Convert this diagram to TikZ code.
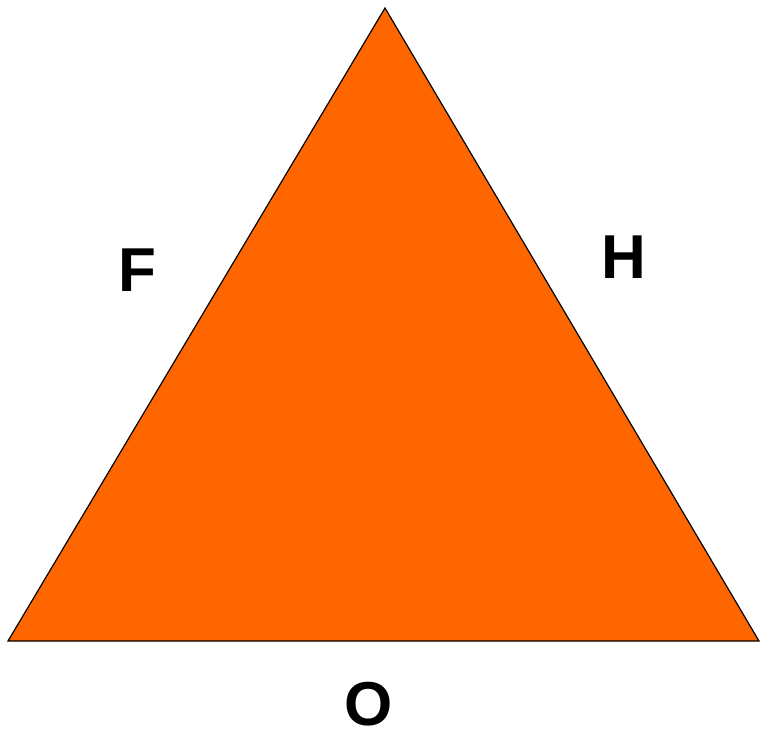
\documentclass[tikz,border=0pt]{standalone}
\usepackage{fontspec}
\setmainfont{Liberation Sans}
\definecolor{tri}{HTML}{FF6600}
\begin{document}
\begin{tikzpicture}[x=1pt,y=-1pt,
  lbl/.style={font=\fontsize{62}{62}\selectfont\bfseries, inner sep=0pt}]
\useasboundingbox (0,0) rectangle (761,734);
\coordinate (top) at (385,8);
\coordinate (bl) at (8,641);
\coordinate (br) at (759,641);
\filldraw[fill=tri, draw=black, line width=1.2pt, line join=miter] (top) -- (bl) -- (br) -- cycle;
\node[lbl] (F) at (137,270) {F};
\node[lbl] (H) at (624,257) {H};
\node[lbl] (O) at (369,704) {O};
\end{tikzpicture}
\end{document}
